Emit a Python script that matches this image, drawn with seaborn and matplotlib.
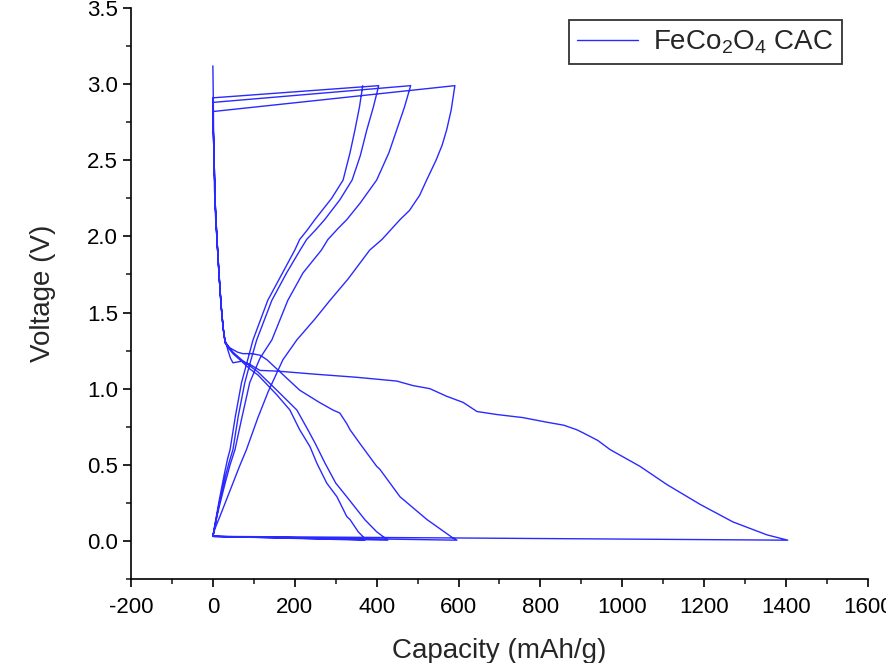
import numpy as np
import pandas as pd
import seaborn as sns
import matplotlib.pyplot as plt
from matplotlib.ticker import AutoMinorLocator

# === Data (capacity mAh/g, voltage V) ===
# 1st discharge
d1_x = [0, 1, 2, 4, 7, 10, 15, 20, 25, 29, 33, 37, 43, 49, 60, 70, 90, 115, 159,
        250, 350, 408, 449, 489, 530, 571, 611, 645, 694, 757, 815, 857, 889, 904,
        940, 970, 1043, 1109, 1190, 1270, 1353, 1404]
d1_v = [3.12, 2.9, 2.6, 2.3, 2.1, 1.98, 1.75, 1.55, 1.4, 1.32, 1.29, 1.25, 1.2, 1.17,
        1.175, 1.18, 1.16, 1.12, 1.115, 1.095, 1.075, 1.06, 1.05, 1.02, 1.0, 0.95,
        0.91, 0.85, 0.83, 0.81, 0.78, 0.76, 0.73, 0.71, 0.66, 0.60, 0.49, 0.37, 0.24,
        0.125, 0.04, 0.005]
# 1st charge
c1_x = [0, 5, 17, 30, 49, 65, 82, 110, 135, 159, 171, 205, 250, 286, 330, 383, 413,
        457, 480, 505, 522, 545, 560, 571, 582, 591]
c1_v = [0.03, 0.08, 0.16, 0.25, 0.38, 0.49, 0.60, 0.81, 0.98, 1.12, 1.19, 1.32, 1.46,
        1.58, 1.72, 1.91, 1.98, 2.11, 2.17, 2.27, 2.37, 2.50, 2.60, 2.70, 2.83, 2.99]
# 2nd discharge
d2_x = [0, 1, 3, 6, 10, 15, 20, 25, 30, 40, 60, 73, 95, 115, 132, 164, 212, 260, 293,
        310, 327, 335, 359, 400, 408, 457, 523, 560, 586, 596]
d2_v = [2.82, 2.7, 2.5, 2.2, 1.98, 1.75, 1.55, 1.4, 1.31, 1.27, 1.24, 1.23, 1.23, 1.22,
        1.19, 1.11, 0.99, 0.91, 0.86, 0.84, 0.77, 0.73, 0.64, 0.49, 0.47, 0.29, 0.14,
        0.07, 0.02, 0.005]
# 2nd charge
c2_x = [0, 5, 15, 30, 42, 54, 70, 90, 115, 144, 183, 220, 265, 281, 305, 327, 360,
        400, 430, 449, 468, 483]
c2_v = [0.03, 0.1, 0.22, 0.38, 0.5, 0.6, 0.8, 1.04, 1.2, 1.32, 1.58, 1.76, 1.91, 1.98,
        2.05, 2.11, 2.22, 2.37, 2.55, 2.70, 2.85, 2.99]
# 3rd discharge
d3_x = [0, 1, 3, 6, 10, 15, 20, 25, 30, 40, 49, 70, 90, 110, 156, 205, 232, 250, 274,
        300, 327, 371, 400, 420, 427]
d3_v = [2.88, 2.7, 2.5, 2.2, 1.98, 1.75, 1.55, 1.4, 1.30, 1.27, 1.24, 1.19, 1.15, 1.11,
        0.99, 0.86, 0.73, 0.64, 0.51, 0.38, 0.29, 0.14, 0.06, 0.02, 0.005]
# 3rd charge
c3_x = [0, 5, 15, 30, 40, 49, 62, 78, 92, 107, 144, 180, 213, 229, 250, 273, 310, 340,
        360, 376, 392, 405]
c3_v = [0.03, 0.1, 0.24, 0.42, 0.52, 0.6, 0.82, 1.04, 1.18, 1.32, 1.58, 1.76, 1.91,
        1.98, 2.04, 2.11, 2.24, 2.37, 2.53, 2.70, 2.85, 2.99]
# 4th discharge
d4_x = [0, 1, 3, 6, 10, 15, 20, 25, 30, 40, 49, 70, 90, 110, 156, 188, 212, 237, 254,
        278, 303, 327, 335, 355, 366, 371]
d4_v = [2.91, 2.7, 2.5, 2.2, 1.98, 1.75, 1.55, 1.4, 1.30, 1.26, 1.23, 1.18, 1.13, 1.09,
        0.96, 0.86, 0.73, 0.62, 0.51, 0.38, 0.29, 0.16, 0.14, 0.06, 0.03, 0.005]
# 4th charge
c4_x = [0, 5, 15, 28, 36, 42, 55, 70, 84, 98, 134, 170, 200, 212, 230, 249, 290, 318,
        335, 347, 358, 366]
c4_v = [0.03, 0.11, 0.26, 0.44, 0.54, 0.6, 0.82, 1.04, 1.18, 1.32, 1.58, 1.76, 1.91,
        1.98, 2.04, 2.11, 2.25, 2.37, 2.55, 2.70, 2.85, 2.99]

x_ticks = [-200, 0, 200, 400, 600, 800, 1000, 1200, 1400, 1600]
y_ticks = [0.0, 0.5, 1.0, 1.5, 2.0, 2.5, 3.0, 3.5]

# === One continuous trace, in recording order ===
segments = [(d1_x, d1_v), (c1_x, c1_v), (d2_x, d2_v), (c2_x, c2_v),
            (d3_x, d3_v), (c3_x, c3_v), (d4_x, d4_v), (c4_x, c4_v)]
df = pd.DataFrame({
    "capacity": np.concatenate([s[0] for s in segments]),
    "voltage": np.concatenate([s[1] for s in segments]),
})

# === Plot ===
sns.set_style("ticks")
plt.rcParams["font.family"] = ["Liberation Sans", "DejaVu Sans"]
plt.rcParams["mathtext.fontset"] = "custom"
plt.rcParams["mathtext.rm"] = "Liberation Sans"

fig = plt.figure(figsize=(8.87, 6.63), dpi=100)
ax = fig.add_axes([131 / 887, 84 / 663, 737 / 887, 571 / 663])

sns.lineplot(data=df, x="capacity", y="voltage", sort=False, estimator=None,
             color="#2a2aff", linewidth=1.0, label="FeCo$_2$O$_4$ CAC", ax=ax)

ax.set_xlim(-200, 1600)
ax.set_ylim(-0.25, 3.5)
ax.set_xticks(x_ticks)
ax.set_yticks(y_ticks)
ax.set_xticklabels([str(t) for t in x_ticks])
ax.set_yticklabels([f"{t:.1f}" for t in y_ticks])
ax.xaxis.set_minor_locator(AutoMinorLocator(2))
ax.yaxis.set_minor_locator(AutoMinorLocator(2))
ax.tick_params(which="major", direction="out", length=6, width=1.2,
               labelsize=16, colors="black")
ax.tick_params(axis="x", which="major", pad=7)
ax.tick_params(which="minor", direction="out", length=3.5, width=1.2)
for side in ["left", "bottom"]:
    ax.spines[side].set_linewidth(1.2)
    ax.spines[side].set_color("black")
sns.despine(ax=ax)

ax.set_xlabel("Capacity (mAh/g)", fontsize=20, labelpad=14)
ax.set_ylabel("Voltage (V)", fontsize=20, labelpad=22)

leg = ax.legend(loc="upper right", bbox_to_anchor=(0.9647, 0.979),
                borderaxespad=0, fontsize=20, frameon=True, fancybox=False,
                handlelength=2.2, handletextpad=0.55, borderpad=0.3)
leg.get_frame().set_edgecolor("black")
leg.get_frame().set_linewidth(1.3)

fig.savefig("out.png", dpi=100)
